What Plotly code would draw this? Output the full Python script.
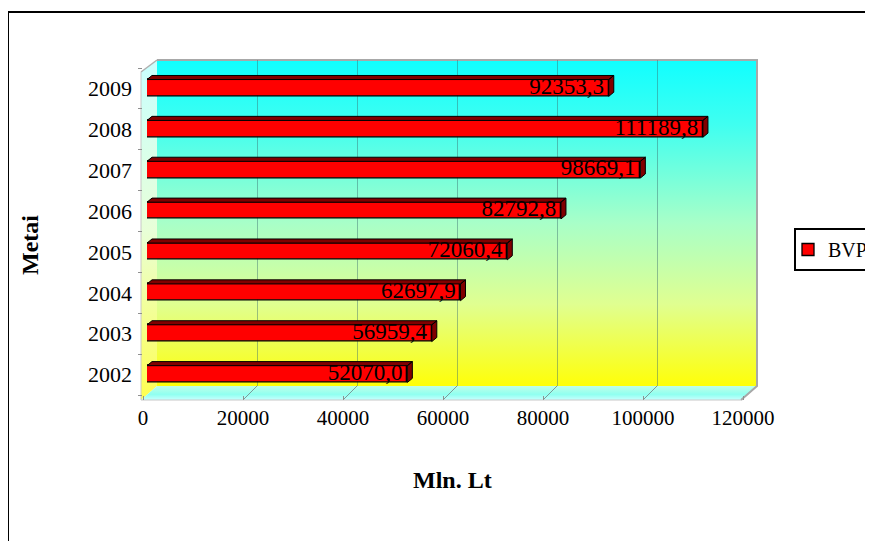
import base64
import plotly.graph_objects as go

# ---------------- data ----------------
years = ["2002", "2003", "2004", "2005", "2006", "2007", "2008", "2009"]
bvp = [52070.0, 56959.4, 62697.9, 72060.4, 82792.8, 98669.1, 111189.8, 92353.3]
bvp_labels = ["52070,0", "56959,4", "62697,9", "72060,4", "82792,8", "98669,1", "111189,8", "92353,3"]
x_ticks = [0, 20000, 40000, 60000, 80000, 100000, 120000]
x_ticktext = ["0", "20000", "40000", "60000", "80000", "100000", "120000"]
series_name = "BVP"
x_title = "Mln. Lt"
y_title = "Metai"

# ---------------- geometry (pixels) ----------------
W, H = 873, 541
XMAX = 120000
OFF = 8  # page body margin


def fx(px):
    return (px - OFF) / W


def fy(py):
    return 1 - (py - OFF) / H


FONT = "Liberation Serif, Times New Roman, serif"

# background "3D" walls as an SVG image
svg = f'''<svg xmlns="http://www.w3.org/2000/svg" width="{W}" height="{H}" viewBox="0 0 {W} {H}">
<defs>
<linearGradient id="w" x1="0" y1="0" x2="0" y2="1">
<stop offset="0" stop-color="#10FFFF"/>
<stop offset="0.2" stop-color="#40FFF0"/>
<stop offset="0.5" stop-color="#A8FFC8"/>
<stop offset="0.75" stop-color="#E0FF90"/>
<stop offset="1" stop-color="#FFFF08"/>
</linearGradient>
<linearGradient id="lw" x1="0" y1="0" x2="0" y2="1">
<stop offset="0" stop-color="#C8FFFF"/>
<stop offset="0.5" stop-color="#E8FFD8"/>
<stop offset="1" stop-color="#FFFF50"/>
</linearGradient>
<linearGradient id="fl" x1="0" y1="0" x2="0" y2="1">
<stop offset="0" stop-color="#C0FFE8"/>
<stop offset="0.6" stop-color="#90FFF0"/>
<stop offset="1" stop-color="#C8FFFF"/>
</linearGradient>
</defs>
<polygon points="141,72 157,60 157,386 141,400" fill="url(#lw)"/>
<rect x="157" y="60" width="600" height="326" fill="url(#w)"/>
<polygon points="141,400 157,386 757,386 741,400" fill="url(#fl)"/>
'''
for k in range(1, len(x_ticks) - 1):
    xf = 143 + k * 100
    svg += f'<line x1="{xf}" y1="400" x2="{xf + 14}" y2="386" stroke="#7A9A9A" stroke-width="1"/>\n'
svg += '''<polyline points="157,60 757,60 757,386 741,400" fill="none" stroke="#A8A8A8" stroke-width="2"/>
<line x1="141" y1="72" x2="157" y2="60" stroke="#B0B0B0" stroke-width="1.5"/>
<line x1="141" y1="72" x2="141" y2="400" stroke="#C8C8C8" stroke-width="1"/>
<line x1="141" y1="400" x2="741" y2="400" stroke="#C8C8C8" stroke-width="1"/>
</svg>'''
svg_uri = "data:image/svg+xml;base64," + base64.b64encode(svg.encode()).decode()

fig = go.Figure()

# subplot 1: back wall gridlines
fig.add_trace(go.Scatter(x=[0], y=[-5], mode="markers", marker=dict(opacity=0),
                         hoverinfo="skip", showlegend=False, xaxis="x", yaxis="y"))
# subplot 2: visible tick axes
fig.add_trace(go.Scatter(x=bvp, y=years, mode="markers", marker=dict(opacity=0),
                         hoverinfo="skip", showlegend=False, xaxis="x2", yaxis="y2"))

# subplot 3: bars
idx = list(range(len(years)))
bw = 0.41
dx = 1000      # depth in x units
dy = 0.1       # depth in category units
fig.add_trace(go.Bar(x=bvp, y=idx, orientation="h", width=bw, name=series_name,
                     marker=dict(color="#FF0000", line=dict(color="#000000", width=1.3)),
                     xaxis="x3", yaxis="y3", showlegend=True, hoverinfo="x"))
px_, py_ = [], []
for v, c in zip(bvp, idx):
    top = c + bw / 2
    bot = c - bw / 2
    # top face
    px_ += [0, dx, v + dx, v, 0, None]
    py_ += [top, top + dy, top + dy, top, top, None]
    # right side face
    px_ += [v, v + dx, v + dx, v, v, None]
    py_ += [bot, bot + dy, top + dy, top, bot, None]
fig.add_trace(go.Scatter(x=px_, y=py_, mode="lines", fill="toself", fillcolor="#800000",
                         line=dict(color="#000000", width=1), hoverinfo="skip",
                         showlegend=False, xaxis="x3", yaxis="y3"))
fig.add_trace(go.Scatter(x=bvp, y=idx, mode="markers+text", text=bvp_labels,
                         marker=dict(size=6, opacity=0),
                         textposition="middle left",
                         textfont=dict(family=FONT, size=23, color="#000000"),
                         hoverinfo="skip", showlegend=False, xaxis="x3", yaxis="y3"))

fig.update_layout(
    width=W, height=H,
    margin=dict(l=0, r=0, t=0, b=0, autoexpand=False),
    paper_bgcolor="#FFFFFF",
    plot_bgcolor="rgba(0,0,0,0)",
    bargap=0,
    xaxis=dict(domain=[fx(157), fx(757)], range=[0, XMAX], tickvals=x_ticks,
               showticklabels=False, ticks="", showgrid=True,
               gridcolor="rgba(60,110,110,0.45)", gridwidth=1,
               zeroline=False, showline=False, anchor="y", fixedrange=True,
               automargin=False),
    yaxis=dict(domain=[fy(386), fy(60)], range=[0, 1], visible=False,
               anchor="x", fixedrange=True),
    xaxis2=dict(domain=[fx(143), fx(743)], range=[0, XMAX], tickvals=x_ticks,
                ticktext=x_ticktext, ticks="outside", ticklen=4, tickcolor="#909090",
                showgrid=False, zeroline=False, showline=False,
                tickfont=dict(family=FONT, size=21, color="#000000"),
                anchor="y2", fixedrange=True, automargin=False),
    yaxis2=dict(domain=[fy(395), fy(68)], type="category", categoryorder="array",
                categoryarray=years, range=[-0.5, len(years) - 0.5],
                tickson="boundaries", ticks="outside", ticklen=4, tickcolor="#909090",
                showgrid=False, zeroline=False, showline=False,
                ticklabelstandoff=10,
                tickfont=dict(family=FONT, size=22, color="#000000"),
                anchor="x2", fixedrange=True, automargin=False),
    xaxis3=dict(domain=[fx(147), fx(747)], range=[0, XMAX], visible=False,
                anchor="y3", fixedrange=True),
    yaxis3=dict(domain=[fy(399 - 4.5), fy(72 - 4.5)], range=[-0.5, len(years) - 0.5],
                visible=False, anchor="x3", fixedrange=True),
    legend=dict(x=fx(794), y=fy(228), xanchor="left", yanchor="top",
                bordercolor="#000000", borderwidth=2, bgcolor="#FFFFFF",
                indentation=-8,
                font=dict(family=FONT, size=20, color="#000000")),
    images=[dict(source=svg_uri, xref="paper", yref="paper", x=fx(0), y=fy(0),
                 sizex=1, sizey=1, sizing="stretch", xanchor="left", yanchor="top",
                 layer="below")],
    shapes=[dict(type="rect", xref="paper", yref="paper", x0=fx(8), y0=fy(12),
                 x1=fx(890), y1=fy(570), line=dict(color="#000000", width=2))],
    annotations=[
        dict(text=f"<b>{y_title}</b>", xref="paper", yref="paper", x=fx(30), y=fy(245),
             xanchor="center", yanchor="middle",
             showarrow=False, textangle=-90,
             font=dict(family=FONT, size=24, color="#000000")),
        dict(text=f"<b>{x_title}</b>", xref="paper", yref="paper", x=fx(453), y=fy(480),
             xanchor="center", yanchor="middle",
             showarrow=False, font=dict(family=FONT, size=24, color="#000000")),
    ],
    showlegend=True,
)

fig.write_html("out.html")
